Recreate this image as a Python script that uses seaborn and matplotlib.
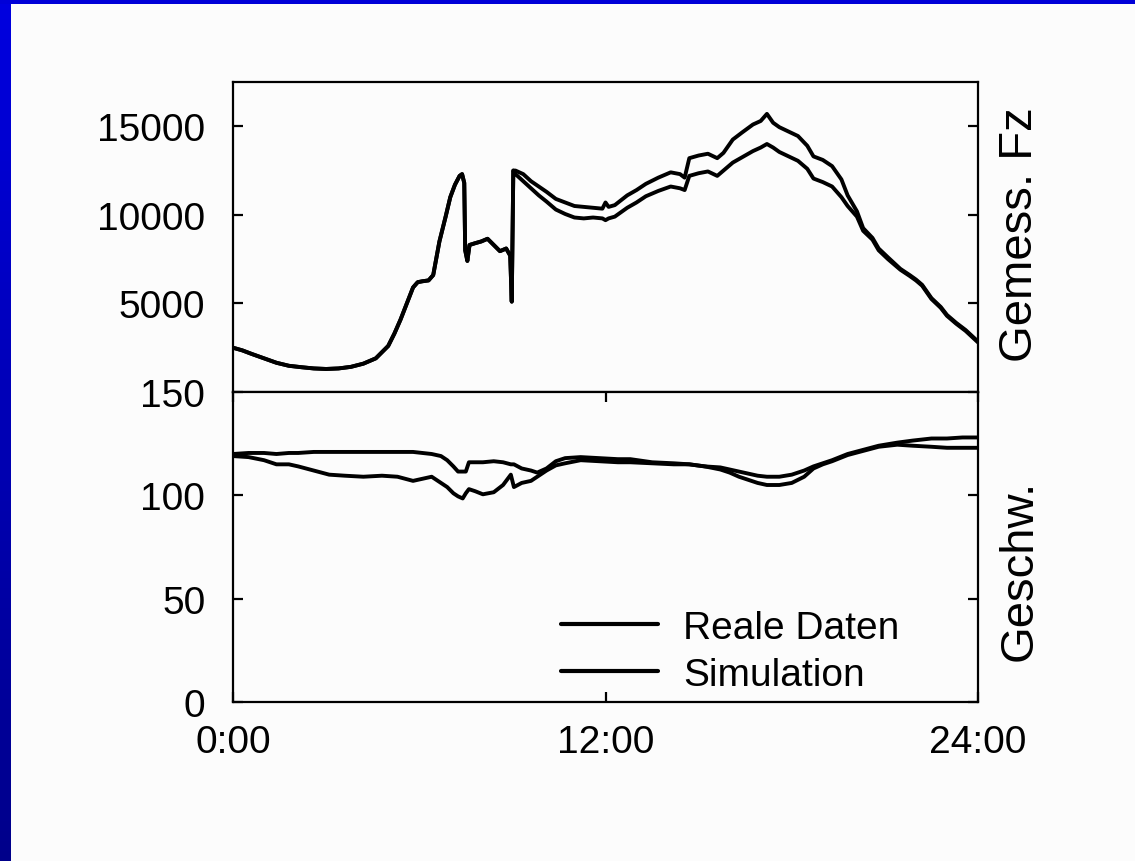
import numpy as np
import pandas as pd
import matplotlib
matplotlib.use("Agg")
import matplotlib.pyplot as plt
import seaborn as sns
from matplotlib.colors import LinearSegmentedColormap

sns.set_theme(style="ticks")
plt.rcParams['font.family'] = ['Liberation Sans', 'DejaVu Sans']
plt.rcParams['text.color'] = 'black'
plt.rcParams['axes.labelcolor'] = 'black'
plt.rcParams['xtick.color'] = 'black'
plt.rcParams['ytick.color'] = 'black'

# ---------------- data ----------------
series_names = ["Reale Daten", "Simulation"]

# upper panel: Gemess. Fz (vehicles), time in hours
fz_time_common = [0.0, 0.3, 0.6, 1.0, 1.4, 1.8, 2.2, 2.6, 3.0, 3.4, 3.8, 4.2, 4.6,
                  5.0, 5.2, 5.4, 5.6, 5.8, 5.95, 6.1, 6.3, 6.45, 6.65, 6.85, 7.0,
                  7.15, 7.3, 7.38, 7.45, 7.48, 7.55, 7.62, 7.8, 8.0, 8.2, 8.4, 8.6,
                  8.8, 8.93, 8.98, 9.03]
fz_common = [2500, 2350, 2150, 1900, 1650, 1480, 1400, 1330, 1300, 1330, 1420, 1600, 1900,
             2600, 3300, 4100, 5000, 5900, 6200, 6250, 6300, 6600, 8500, 9900, 11000,
             11700, 12200, 12300, 11800, 8000, 7400, 8300, 8400, 8500, 8650, 8300, 7950,
             8100, 7700, 5100, 12500]

fz_time_split = [9.1, 9.35, 9.6, 9.85, 10.1, 10.4, 10.7, 11.0, 11.3, 11.6, 11.9, 12.0,
                 12.1, 12.3, 12.7, 13.0, 13.3, 13.7, 14.1, 14.4, 14.55, 14.7, 15.0, 15.3,
                 15.6, 15.8, 16.1, 16.4, 16.75, 17.0, 17.2, 17.4, 17.6, 17.9, 18.2, 18.5,
                 18.7, 19.0, 19.3, 19.6, 19.8, 20.1, 20.3, 20.6, 20.8, 21.1, 21.5, 21.8,
                 22.0, 22.2, 22.5, 22.8, 23.0, 23.3, 23.6, 24.0]
fz_real = [12500, 12300, 11900, 11600, 11300, 10900, 10700, 10500, 10450, 10400, 10350, 10700,
           10450, 10550, 11100, 11400, 11750, 12100, 12400, 12300, 12100, 13200, 13350, 13450,
           13200, 13500, 14250, 14650, 15100, 15300, 15700, 15200, 14950, 14700, 14450, 13900,
           13300, 13100, 12750, 12000, 11100, 10200, 9250, 8700, 8100, 7600, 6950, 6600,
           6350, 6050, 5300, 4800, 4350, 3900, 3500, 2850]
fz_sim = [12300, 11900, 11500, 11100, 10750, 10300, 10050, 9850, 9800, 9850, 9800, 9700,
          9800, 9900, 10400, 10700, 11050, 11350, 11600, 11500, 11400, 12200, 12350, 12450,
          12200, 12500, 12950, 13250, 13600, 13800, 14000, 13800, 13550, 13300, 13050, 12600,
          12050, 11850, 11600, 11000, 10500, 9900, 9100, 8600, 8000, 7500, 6900, 6550,
          6300, 6000, 5250, 4750, 4300, 3850, 3450, 2800]

# lower panel: Geschw. (km/h)
v_time = [0.0, 0.5, 1.0, 1.4, 1.8, 2.1, 2.6, 3.1, 3.6, 4.2, 4.8, 5.3, 5.8, 6.1, 6.4,
          6.7, 6.9, 7.1, 7.25, 7.4, 7.5, 7.6, 7.8, 8.05, 8.4, 8.7, 8.95, 9.05, 9.3, 9.6,
          9.8, 10.1, 10.4, 10.7, 11.2, 11.8, 12.4, 12.8, 13.5, 14.2, 14.7, 15.2, 15.7,
          16.0, 16.3, 16.6, 16.9, 17.2, 17.6, 18.0, 18.4, 18.7, 19.0, 19.3, 19.8, 20.3,
          20.8, 21.4, 21.9, 22.5, 23.0, 23.5, 24.0]
v_real = [120, 120.5, 120.5, 120, 120.5, 120.5, 121, 121, 121, 121, 121, 121, 121, 120.5, 120,
          119, 117, 114, 111.5, 111.5, 111.5, 116, 116, 116, 116.5, 116, 115, 115, 113, 112,
          111, 113, 116.5, 118, 118.5, 118, 117.5, 117.5, 116, 115.5, 115, 114, 113.5,
          112.5, 111.5, 110.5, 109.5, 109, 109, 110, 112, 114, 115.5, 117, 120, 122,
          124, 125.5, 126.5, 127.5, 127.5, 128, 128]
v_sim = [119, 118.5, 117, 115, 115, 114, 112, 110, 109.5, 109, 109.5, 109, 107, 108, 109,
         106, 104, 101, 99.5, 98.5, 101, 103, 102, 100.5, 101.5, 105, 110, 104, 106, 107,
         109, 112, 114.5, 115.5, 117, 116.5, 116, 116, 115.5, 115, 115, 114, 112.5,
         111, 109, 107.5, 106, 105, 105, 106, 109, 113, 115, 116.5, 119.5, 121.5,
         123.5, 124.5, 124, 123.5, 123, 123, 123]

x_ticks = [0, 12, 24]
x_tick_labels = ["0:00", "12:00", "24:00"]
fz_ticks = [5000, 10000, 15000]
v_ticks = [0, 50, 100, 150]

# ---------------- tables for seaborn ----------------
df_fz = pd.concat([
    pd.DataFrame({"t": fz_time_common + fz_time_split, "v": fz_common + fz_real,
                  "series": series_names[0]}),
    pd.DataFrame({"t": fz_time_common + fz_time_split, "v": fz_common + fz_sim,
                  "series": series_names[1]}),
], ignore_index=True)
df_v = pd.concat([
    pd.DataFrame({"t": v_time, "v": v_real, "series": series_names[0]}),
    pd.DataFrame({"t": v_time, "v": v_sim, "series": series_names[1]}),
], ignore_index=True)

# ---------------- figure ----------------
W, H = 1135, 862
bg = '#fcfcfc'
fig = plt.figure(figsize=(W / 100, H / 100), dpi=100, facecolor=bg)

# blue frame (left gradient strip and thin top strip)
ax_blue = fig.add_axes([0, 0, 10 / W, 1])
grad = np.linspace(0, 1, 256).reshape(-1, 1)
cmap_b = LinearSegmentedColormap.from_list("b", ["#00008a", "#0000e0"])
ax_blue.imshow(grad, aspect='auto', cmap=cmap_b, origin='lower', extent=[0, 1, 0, 1])
ax_blue.axis('off')
ax_topstrip = fig.add_axes([0, 1 - 5 / H, 1, 5 / H])
ax_topstrip.set_facecolor('#0000d8')
ax_topstrip.set_xticks([]); ax_topstrip.set_yticks([])
for s in ax_topstrip.spines.values():
    s.set_visible(False)

L, R = 233 / W, 978 / W
ax_top = fig.add_axes([L, 1 - 393 / H, R - L, (393 - 83) / H])
ax_bot = fig.add_axes([L, 1 - 703 / H, R - L, (703 - 393) / H], sharex=ax_top)

pal = {series_names[0]: "black", series_names[1]: "black"}
sns.lineplot(data=df_fz, x="t", y="v", hue="series", palette=pal, estimator=None,
             sort=False, lw=2.8, ax=ax_top, legend=False)
sns.lineplot(data=df_v, x="t", y="v", hue="series", palette=pal, estimator=None,
             sort=False, lw=2.8, ax=ax_bot, legend=True)

for ax in (ax_top, ax_bot):
    ax.set_facecolor(bg)
    ax.set_xlim(0, 24)
    ax.set_xlabel("")
    ax.set_ylabel("")
    for s in ax.spines.values():
        s.set_visible(True)
        s.set_linewidth(1.6)
        s.set_color("black")
    ax.tick_params(direction="in", length=7, width=1.6, colors="black",
                   top=True, right=True, labelsize=28, labelcolor="black")
    ax.tick_params(axis="y", pad=20)
    ax.tick_params(axis="x", pad=16)
    ax.set_xticks(x_ticks)

ax_top.set_ylim(0, 17500)
ax_top.set_yticks(fz_ticks)
ax_top.set_yticklabels([str(v) for v in fz_ticks])
ax_top.tick_params(axis="x", labelbottom=False, bottom=False, top=False)

ax_bot.set_ylim(0, 150)
ax_bot.set_yticks(v_ticks)
ax_bot.set_yticklabels([str(v) for v in v_ticks])
ax_bot.set_xticklabels(x_tick_labels)

handles, labels = ax_bot.get_legend_handles_labels()
for h in handles:
    h.set_linewidth(3)
leg = ax_bot.legend(handles, labels, loc="lower left", bbox_to_anchor=(0.44, 0.03),
                    frameon=False, fontsize=28, handlelength=2.5, handletextpad=0.65,
                    labelspacing=0.28, borderpad=0, borderaxespad=0)
for t in leg.get_texts():
    t.set_color("black")

fig.text(1020 / W, 1 - 235 / H, "Gemess. Fz", rotation=90, ha="center", va="center",
         fontsize=34, color="black")
fig.text(1020 / W, 1 - 570 / H, "Geschw.", rotation=90, ha="center", va="center",
         fontsize=34, color="black")

fig.savefig("out.png", dpi=100, facecolor=bg)
